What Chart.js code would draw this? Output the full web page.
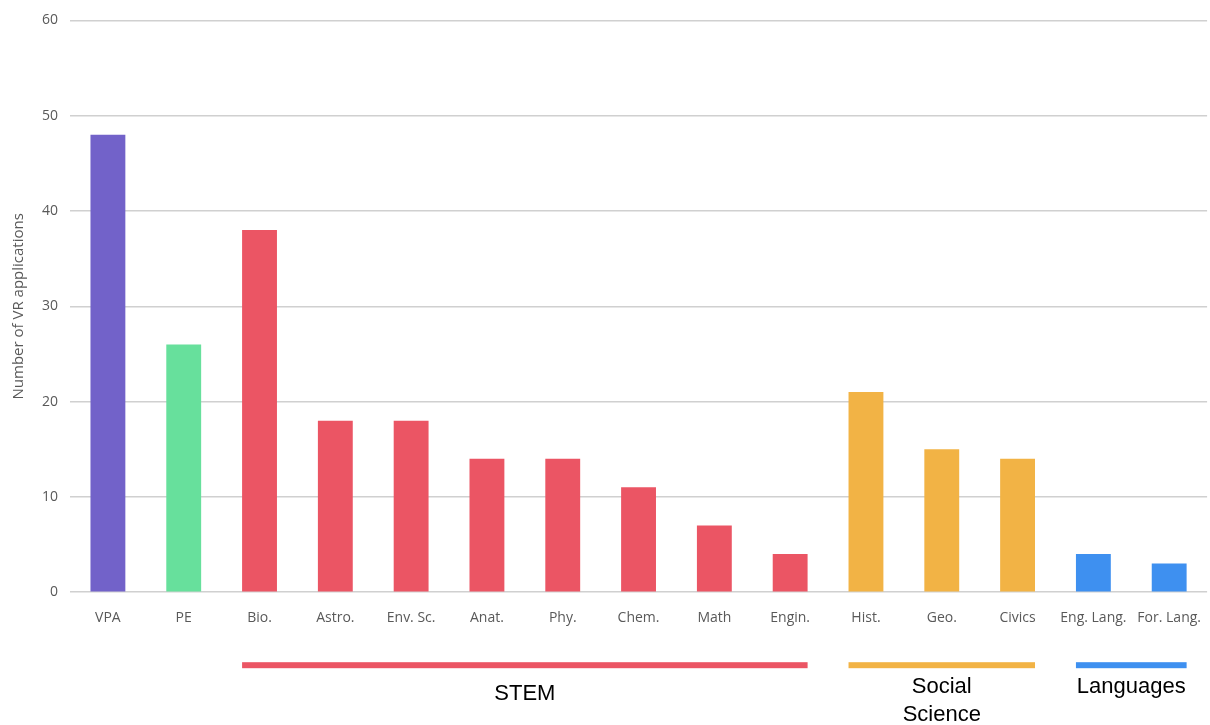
<!DOCTYPE html>
<html>
<head>
<meta charset="utf-8">
<script src="https://cdn.jsdelivr.net/npm/chart.js@4"></script>
<style>
  html, body { margin: 0; padding: 0; background: #fff; }
  #wrap { width: 1210px; height: 725px; }
</style>
</head>
<body>
<div id="wrap"><canvas id="vrChart"></canvas></div>
<script>
const subjects = ['VPA', 'PE', 'Bio.', 'Astro.', 'Env. Sc.', 'Anat.', 'Phy.', 'Chem.', 'Math', 'Engin.',
                  'Hist.', 'Geo.', 'Civics', 'Eng. Lang.', 'For. Lang.'];
const appCounts = [48, 26, 38, 18, 18, 14, 14, 11, 7, 4, 21, 15, 14, 4, 3];
const barColors = ['#7262c9', '#67e09c',
                   '#eb5564', '#eb5564', '#eb5564', '#eb5564', '#eb5564', '#eb5564', '#eb5564', '#eb5564',
                   '#f2b345', '#f2b345', '#f2b345',
                   '#3e90f0', '#3e90f0'];
const yTicks = [0, 10, 20, 30, 40, 50, 60];

// subject groups drawn under the axis
const groupNames = [['STEM'], ['Social', 'Science'], ['Languages']];
const groupFirst = [2, 10, 13];
const groupLast = [9, 12, 14];
const groupColors = ['#eb5564', '#f2b345', '#3e90f0'];

const groupPlugin = {
    id: 'groups',
    afterDraw(chart) {
        const c = chart.ctx;
        const bars = chart.getDatasetMeta(0).data;
        const lineY = chart.chartArea.bottom + 73;
        c.save();
        groupNames.forEach((name, i) => {
            const a = bars[groupFirst[i]], b = bars[groupLast[i]];
            const x1 = a.x - a.width / 2;
            const x2 = b.x + b.width / 2;
            c.fillStyle = groupColors[i];
            c.fillRect(x1, lineY - 3, x2 - x1, 6);
            c.fillStyle = '#000';
            c.font = '22px "Liberation Sans", Arial, sans-serif';
            c.textAlign = 'center';
            c.textBaseline = 'middle';
            const cx = (x1 + x2) / 2;
            const top = name.length > 1 ? lineY + 22 : (i === 0 ? lineY + 29 : lineY + 22);
            name.forEach((t, j) => c.fillText(t, cx, top + j * 28));
        });
        c.restore();
    }
};

new Chart(document.getElementById('vrChart'), {
    type: 'bar',
    data: {
        labels: subjects,
        datasets: [{
            label: 'Number of VR applications',
            data: appCounts,
            backgroundColor: barColors,
            categoryPercentage: 1,
            barPercentage: 0.46
        }]
    },
    options: {
        responsive: true,
        maintainAspectRatio: false,
        animation: false,
        layout: { padding: { top: 17, right: 0, bottom: 90, left: 10 } },
        plugins: {
            legend: { display: false },
            tooltip: { enabled: false }
        },
        scales: {
            x: {
                grid: { display: false },
                border: { display: false },
                ticks: {
                    color: '#595959',
                    font: { family: '"Open Sans", sans-serif', size: 14 },
                    padding: 9,
                    maxRotation: 0,
                    autoSkip: false
                }
            },
            y: {
                min: 0,
                max: 60,
                afterBuildTicks(axis) { axis.ticks = yTicks.map(v => ({ value: v })); },
                grid: { color: '#d0d0d0', lineWidth: 1.5, drawTicks: false },
                border: { display: false },
                ticks: {
                    color: '#595959',
                    font: { family: '"Open Sans", sans-serif', size: 14 },
                    padding: 12
                },
                title: {
                    display: true,
                    text: 'Number of VR applications',
                    color: '#595959',
                    font: { family: '"Open Sans", sans-serif', size: 15 },
                    padding: { top: 0, bottom: 2 }
                }
            }
        }
    },
    plugins: [groupPlugin]
});
</script>
</body>
</html>
